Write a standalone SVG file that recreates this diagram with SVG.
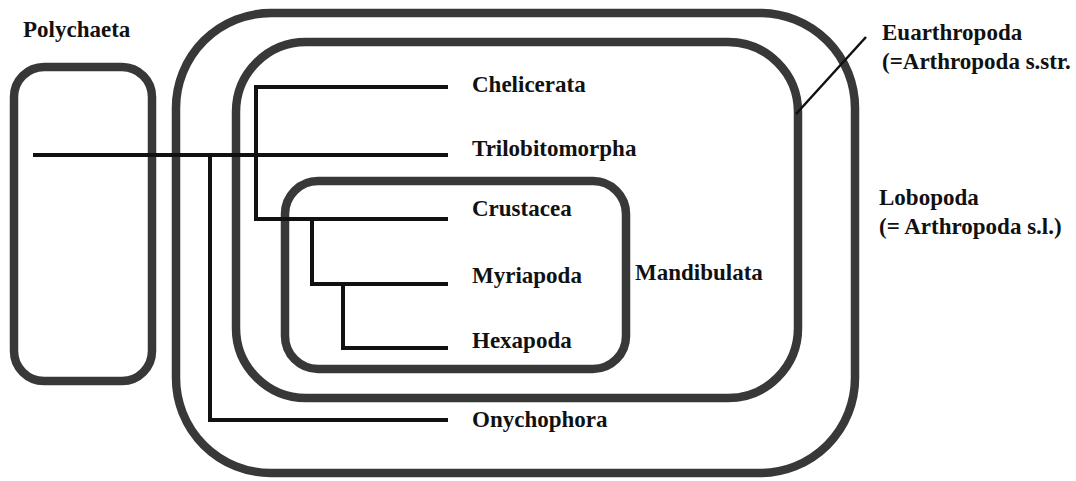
<svg xmlns="http://www.w3.org/2000/svg" width="1076" height="481" viewBox="0 0 1076 481">
<style>
.box{fill:none;stroke:#383838;stroke-width:8.5}
.br{fill:none;stroke:#111;stroke-width:4;stroke-linecap:butt;stroke-linejoin:miter}
.lbl{font-family:"Liberation Serif","Times New Roman",serif;font-weight:bold;font-size:23px;fill:#111}
</style>
<rect x="0" y="0" width="1076" height="481" fill="#fff"/>
<g id="polychaeta">
<rect class="box" x="14" y="67" width="138" height="314" rx="30"/>
<text class="lbl" x="23" y="37">Polychaeta</text>
</g>
<g id="lobopoda">
<rect class="box" x="176" y="13" width="679" height="460" rx="95"/>
<text class="lbl" x="879" y="205">Lobopoda</text>
<text class="lbl" x="879" y="234">(= Arthropoda s.l.)</text>
</g>
<g id="euarthropoda">
<rect class="box" x="236" y="42" width="562" height="356" rx="70"/>
<text class="lbl" x="882" y="40">Euarthropoda</text>
<text class="lbl" x="882" y="69">(=Arthropoda s.str.</text>
</g>
<g id="mandibulata">
<rect class="box" x="285" y="181" width="341" height="188" rx="33"/>
<text class="lbl" x="635" y="280">Mandibulata</text>
</g>
<g id="chelicerata"><text class="lbl" x="472" y="92">Chelicerata</text></g>
<g id="trilobitomorpha"><text class="lbl" x="472" y="156">Trilobitomorpha</text></g>
<g id="crustacea"><text class="lbl" x="472" y="216">Crustacea</text></g>
<g id="myriapoda"><text class="lbl" x="472" y="283">Myriapoda</text></g>
<g id="hexapoda"><text class="lbl" x="472" y="348">Hexapoda</text></g>
<g id="onychophora"><text class="lbl" x="472" y="427">Onychophora</text></g>
<g id="connectors">
<path class="br" d="M33 155 H448"/>
<path class="br" d="M210 155 V420 H448"/>
<path class="br" d="M448 87 H256 V219 H448"/>
<path class="br" d="M312 219 V284 H448"/>
<path class="br" d="M343 284 V348 H448"/>
<path d="M796 114 L866 37" stroke="#111" stroke-width="2.5" fill="none"/>
</g>
</svg>
